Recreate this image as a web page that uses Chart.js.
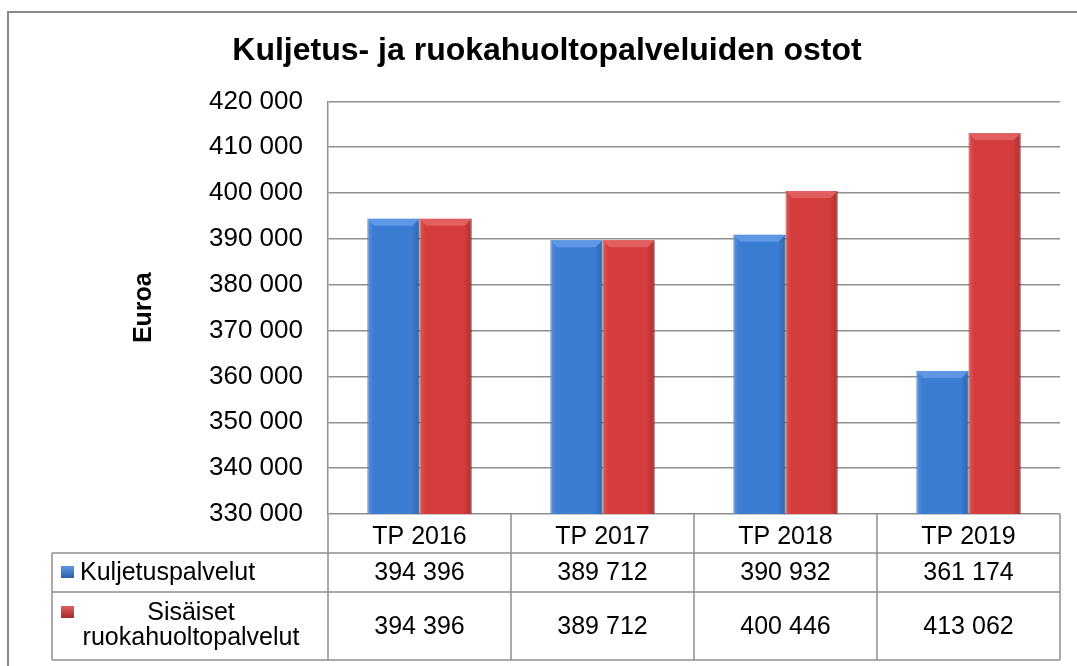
<!DOCTYPE html>
<html>
<head>
<meta charset="utf-8">
<script src="https://cdn.jsdelivr.net/npm/chart.js@4.4.1/dist/chart.umd.min.js"></script>
<style>
  html, body { margin: 0; padding: 0; background: #fff; }
  #wrap { width: 1077px; height: 666px; position: relative; }
</style>
</head>
<body>
<div id="wrap"><canvas id="chart"></canvas></div>
<script>
const categories = ['TP 2016', 'TP 2017', 'TP 2018', 'TP 2019'];
const kuljetus = [394396, 389712, 390932, 361174];
const ruoka = [394396, 389712, 400446, 413062];
const seriesNames = ['Kuljetuspalvelut', 'Sisäiset ruokahuoltopalvelut'];
const yMin = 330000;
const yMax = 420000;
const yStep = 10000;

const FONT = "'Liberation Sans', Arial, sans-serif";
const LINE = '#8f8f8f';

const fmt = v => String(v).replace(/\B(?=(\d{3})+(?!\d))/g, ' ');

const colors = [
    { main: '#3c7dd4', dark: '#2b5fa8', light: '#5e98e4' },
    { main: '#d53c3c', dark: '#a52a2a', light: '#e35f5f' }
];

// frame around the whole picture
const framePlugin = {
    id: 'frame',
    beforeDraw(chart) {
        const ctx = chart.ctx;
        ctx.save();
        ctx.fillStyle = '#fff';
        ctx.fillRect(0, 0, chart.width, chart.height);
        ctx.strokeStyle = '#8a8a8a';
        ctx.lineWidth = 2;
        ctx.strokeRect(8, 12, 1200, 800);
        ctx.restore();
    }
};

// bevel look on the bars
const bevelPlugin = {
    id: 'bevel',
    afterDatasetsDraw(chart) {
        const ctx = chart.ctx;
        const area = chart.chartArea;
        ctx.save();
        chart.data.datasets.forEach((ds, i) => {
            chart.getDatasetMeta(i).data.forEach(bar => {
                const l = bar.x - bar.width / 2, r = bar.x + bar.width / 2;
                const t = bar.y, b = Math.min(bar.base, area.bottom);
                const g = ctx.createLinearGradient(l, 0, r, 0);
                g.addColorStop(0, 'rgba(255,255,255,0.15)');
                g.addColorStop(0.12, 'rgba(255,255,255,0)');
                g.addColorStop(0.85, 'rgba(0,0,0,0)');
                g.addColorStop(1, 'rgba(0,0,0,0.2)');
                ctx.fillStyle = g;
                ctx.fillRect(l, t, r - l, b - t);
                ctx.fillStyle = colors[i].light;
                ctx.beginPath();
                ctx.moveTo(l, t);
                ctx.lineTo(r, t);
                ctx.lineTo(r - 7, t + 7);
                ctx.lineTo(l + 7, t + 7);
                ctx.closePath();
                ctx.fill();
            });
        });
        ctx.restore();
    }
};

// data table under the x axis
const tablePlugin = {
    id: 'dataTable',
    afterDraw(chart) {
        const ctx = chart.ctx;
        const x = chart.scales.x;
        const area = chart.chartArea;
        const left = 52;
        const rowTops = [x.bottom, x.bottom + 39, x.bottom + 107];
        const colEdges = [area.left];
        categories.forEach((c, i) => colEdges.push(area.left + (i + 1) * (area.right - area.left) / categories.length));

        ctx.save();
        ctx.strokeStyle = LINE;
        ctx.lineWidth = 1.5;
        ctx.beginPath();
        colEdges.forEach(cx => { ctx.moveTo(cx, area.bottom); ctx.lineTo(cx, rowTops[2]); });
        ctx.moveTo(left, rowTops[0]); ctx.lineTo(left, rowTops[2]);
        rowTops.forEach(ry => { ctx.moveTo(left, ry); ctx.lineTo(area.right, ry); });
        ctx.stroke();

        ctx.fillStyle = '#000';
        ctx.font = '25px ' + FONT;
        ctx.textBaseline = 'middle';
        const rows = [kuljetus, ruoka];
        rows.forEach((vals, r) => {
            const cy = (rowTops[r] + rowTops[r + 1]) / 2;
            ctx.textAlign = 'center';
            vals.forEach((v, i) => {
                ctx.fillText(fmt(v), x.getPixelForValue(i), cy + 1);
            });
        });

        // legend cells
        const keyY = [rowTops[0] + 19, rowTops[1] + 20];
        keyY.forEach((ky, r) => {
            const g = ctx.createLinearGradient(0, ky - 6, 0, ky + 6);
            g.addColorStop(0, colors[r].light);
            g.addColorStop(1, colors[r].dark);
            ctx.fillStyle = g;
            ctx.fillRect(61, ky - 6, 13, 12);
        });
        ctx.fillStyle = '#000';
        ctx.textAlign = 'left';
        ctx.fillText(seriesNames[0], 80, keyY[0] + 1);
        const mid = (left + area.left) / 2 + 1;
        const words = seriesNames[1].split(' ');
        ctx.textAlign = 'center';
        ctx.fillText(words[0], mid, rowTops[1] + 21);
        ctx.fillText(words[1], mid, rowTops[1] + 46);
        ctx.restore();
    }
};

new Chart(document.getElementById('chart'), {
    type: 'bar',
    data: {
        labels: categories,
        datasets: [
            { label: seriesNames[0], data: kuljetus, backgroundColor: colors[0].main, borderColor: colors[0].dark, borderWidth: 1 },
            { label: seriesNames[1], data: ruoka, backgroundColor: colors[1].main, borderColor: colors[1].dark, borderWidth: 1 }
        ]
    },
    options: {
        responsive: true,
        maintainAspectRatio: false,
        animation: false,
        categoryPercentage: 0.57,
        barPercentage: 1.0,
        layout: { padding: { top: 0, left: 34, right: 17, bottom: 113 } },
        plugins: {
            legend: { display: false },
            tooltip: { enabled: false },
            title: {
                display: true,
                text: 'Kuljetus- ja ruokahuoltopalveluiden ostot',
                color: '#000',
                font: { family: FONT, size: 32, weight: 'bold' },
                padding: { top: 32, bottom: 31 }
            }
        },
        scales: {
            x: {
                grid: { display: false },
                border: { display: false },
                ticks: { color: '#000', font: { family: FONT, size: 25 }, padding: 0, maxRotation: 0 },
                afterFit: s => { s.height = 39; }
            },
            y: {
                min: yMin,
                max: yMax,
                ticks: {
                    stepSize: yStep,
                    color: '#000',
                    font: { family: FONT, size: 26 },
                    padding: 25,
                    callback: v => fmt(v)
                },
                grid: { color: LINE, lineWidth: 1.5, drawTicks: false },
                border: { color: LINE, width: 1.5 },
                title: {
                    display: true,
                    text: 'Euroa',
                    color: '#000',
                    font: { family: FONT, size: 25, weight: 'bold' },
                    padding: { top: 95, bottom: 0 }
                },
                afterFit: s => { s.width = 294; }
            }
        }
    },
    plugins: [framePlugin, bevelPlugin, tablePlugin]
});
</script>
</body>
</html>
